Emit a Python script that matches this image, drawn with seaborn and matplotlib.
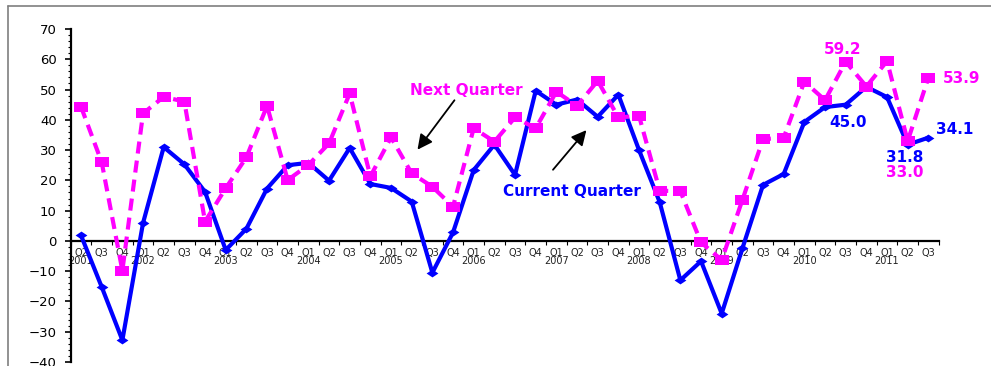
import matplotlib
matplotlib.use("Agg")
import matplotlib.pyplot as plt
from matplotlib.lines import Line2D
from matplotlib.ticker import MultipleLocator, FixedLocator
import numpy as np
import pandas as pd
import seaborn as sns

# Survey balances, 2001 Q2 – 2011 Q3
periods = pd.period_range("2001Q2", "2011Q3", freq="Q")
current_quarter = [1.8, -15.2, -32.8, 5.9, 31.0, 25.3, 16.2, -3.0, 4.0, 17.3,
                   25.0, 25.8, 19.9, 30.7, 18.8, 17.5, 13.0, -10.5, 2.8, 23.4,
                   31.8, 21.8, 49.6, 45.0, 46.7, 41.0, 48.3, 30.0, 12.8, -13.0,
                   -6.7, -24.0, -2.5, 18.5, 22.1, 39.3, 44.2, 45.0, 50.9, 47.5,
                   31.8, 34.1]
next_quarter = [44.3, 26.0, -9.8, 42.1, 47.6, 46.0, 6.4, 17.4, 27.6, 44.6,
                20.1, 25.1, 32.2, 48.7, 21.3, 34.2, 22.3, 17.9, 11.3, 37.2,
                32.8, 40.8, 37.2, 49.3, 44.6, 52.9, 40.8, 41.3, 16.6, 16.4,
                -0.5, -6.3, 13.5, 33.6, 34.1, 52.6, 46.5, 59.2, 51.0, 59.4,
                33.0, 53.9]

quarter_labels = [f"Q{p.quarter}" for p in periods]
year_labels = [str(p.year) if (p.quarter == 1 or i == 0) else ""
               for i, p in enumerate(periods)]

BLUE = "#0000FF"
MAGENTA = "#FF00FF"

sns.set_style("white")
plt.rcParams["font.family"] = ["DejaVu Sans"]

df = pd.DataFrame({"pos": np.arange(len(periods)),
                   "current": current_quarter,
                   "next": next_quarter})

fig = plt.figure(figsize=(9.91, 3.66), dpi=100)
ax = fig.add_axes([70.7 / 991, 4 / 366, 868 / 991, 333 / 366])

# wide flat diamond and flat square markers
diamond = [(-1.5, 0), (0, 1), (1.5, 0), (0, -1), (-1.5, 0)]
rect = [(-1.4, -1), (1.4, -1), (1.4, 1), (-1.4, 1), (-1.4, -1)]

sns.lineplot(data=df, x="pos", y="current", ax=ax, color=BLUE, lw=3.0,
             marker=diamond, markersize=8.5, markerfacecolor=BLUE,
             markeredgecolor=BLUE, markeredgewidth=0, errorbar=None, zorder=3)
sns.lineplot(data=df, x="pos", y="next", ax=ax, color=MAGENTA, lw=3.0,
             marker=rect, markersize=10, markerfacecolor=MAGENTA,
             markeredgecolor=MAGENTA, markeredgewidth=0, errorbar=None, zorder=4)
ax.lines[-1].set_dashes([2.9, 1.7])

ax.set_xlim(-0.5, len(periods) - 0.5)
ax.set_ylim(-40, 70)
ax.set_xlabel("")
ax.set_ylabel("")

# axes: left spine and a category axis crossing at zero
for s in ("top", "right"):
    ax.spines[s].set_visible(False)
ax.spines["left"].set_linewidth(1.6)
ax.spines["left"].set_color("black")
ax.spines["bottom"].set_position(("data", 0))
ax.spines["bottom"].set_linewidth(1.6)
ax.spines["bottom"].set_color("black")
ax.spines["bottom"].set_zorder(2)

ax.yaxis.set_major_locator(MultipleLocator(10))
ax.yaxis.set_minor_locator(MultipleLocator(2))
ax.tick_params(axis="y", which="major", direction="out", length=4, width=1.2,
               labelsize=9.5, pad=6, left=True, colors="black")
ax.tick_params(axis="y", which="minor", direction="out", length=2.5, width=0.8,
               left=True, color="black")

ax.set_xticks(np.arange(len(periods)))
ax.set_xticklabels([q + ("\n" + y if y else "\n ") for q, y in
                    zip(quarter_labels, year_labels)],
                   fontsize=7, linespacing=0.8, color="#222222")
ax.xaxis.set_minor_locator(FixedLocator(np.arange(len(periods) + 1) - 0.5))
ax.tick_params(axis="x", which="major", length=0, pad=5, bottom=True)
ax.tick_params(axis="x", which="minor", direction="out", length=3, width=0.8,
               bottom=True, color="black")
ax.grid(False)

# series callouts
ax.text(15.9, 49.8, "Next Quarter", color=MAGENTA, fontsize=11,
        fontweight="bold", va="center", ha="left", zorder=6)
ax.annotate("", xy=(16.2, 29.4), xytext=(18.15, 47.2),
            arrowprops=dict(arrowstyle="-|>,head_length=0.9,head_width=0.45",
                            color="black", lw=1.3), zorder=6)
ax.text(20.4, 16.2, "Current Quarter", color=BLUE, fontsize=11,
        fontweight="bold", va="center", ha="left", zorder=6)
ax.annotate("", xy=(24.54, 37.3), xytext=(22.75, 22.8),
            arrowprops=dict(arrowstyle="-|>,head_length=0.9,head_width=0.45",
                            color="black", lw=1.3), zorder=6)

# value labels
value_labels = [
    (37, next_quarter[37], MAGENTA, (-2, 9)),
    (37, current_quarter[37], BLUE, (2, -13)),
    (40, current_quarter[40], BLUE, (-2, -9)),
    (40, next_quarter[40], MAGENTA, (-2, -22.5)),
    (41, current_quarter[41], BLUE, (19, 6)),
    (41, next_quarter[41], MAGENTA, (24, -0.7)),
]
for i, v, c, off in value_labels:
    ax.annotate(f"{v:.1f}", xy=(i, v), xytext=off, textcoords="offset points",
                ha="center", va="center", color=c, fontsize=11,
                fontweight="bold", zorder=7)

# outer chart frame
fig.add_artist(Line2D([8 / 991, 1.0], [1 - 6 / 366, 1 - 6 / 366],
                      transform=fig.transFigure, color="#7f7f7f", lw=1.2))
fig.add_artist(Line2D([8 / 991, 8 / 991], [0.0, 1 - 6 / 366],
                      transform=fig.transFigure, color="#7f7f7f", lw=1.2))

fig.savefig("out.png", dpi=100)
